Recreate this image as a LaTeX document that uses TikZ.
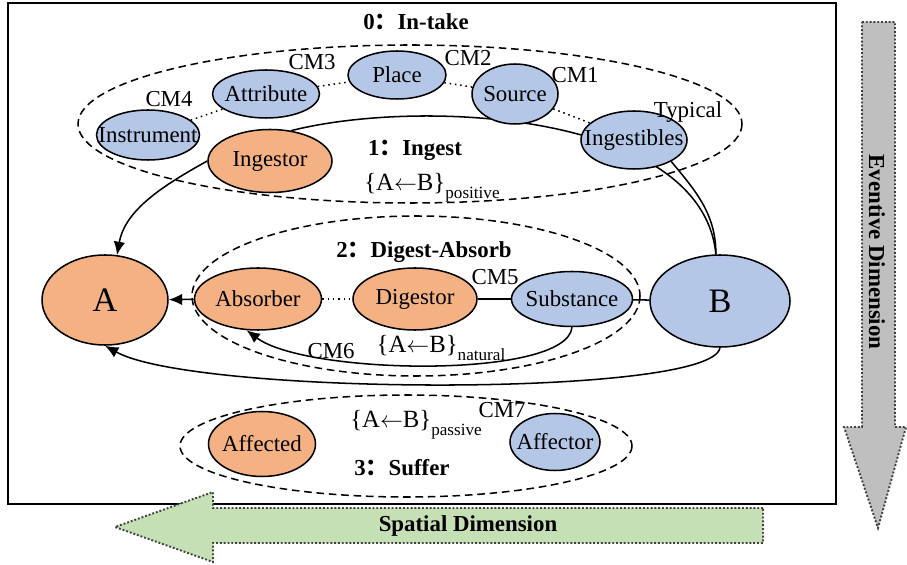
\documentclass[tikz,border=0pt]{standalone}
\usepackage{fontspec}
\setmainfont{Liberation Serif}
\newfontfamily\cjk{Noto Sans CJK SC}
\usetikzlibrary{arrows.meta, shapes.geometric, backgrounds}
\definecolor{agentorange}{RGB}{244,177,131}
\definecolor{patientblue}{RGB}{180,199,231}
\definecolor{spatgreen}{RGB}{197,224,180}
\definecolor{eventgray}{RGB}{191,191,191}
\newcommand{\pxu}{0.525pt}
\newcommand{\nm}[1]{\makebox[0pt]{#1}}
\newcommand{\fwc}{{\cjk ：}}
\newcommand{\relab}[1]{\{A$\leftarrow$B\}\raisebox{-0.7ex}{\fontsize{9}{10}\selectfont #1}}
\tikzset{
    sz/.style 2 args={minimum width=#1*\pxu, minimum height=#2*\pxu},
    role/.style={ellipse, draw, thick, inner sep=0pt, font=\fontsize{12}{14}\selectfont},
    agent/.style={role, fill=agentorange},
    patient/.style={role, fill=patientblue},
    cmlab/.style={font=\fontsize{12}{14}\selectfont, inner sep=0pt},
    stagelab/.style={font=\bfseries\fontsize{12}{14}\selectfont, inner sep=0pt},
    rellab/.style={font=\fontsize{13}{15}\selectfont, inner sep=0pt},
    frame/.style={thick, dash pattern=on 4pt off 2.5pt},
    arr/.style={thick, -{Latex[length=7pt, width=6pt]}},
    dimarrow/.style={line width=1pt, densely dotted, draw=black!75},
}
\begin{document}
\begin{tikzpicture}[x=0.525pt, y=-0.525pt]
    \useasboundingbox (0,0) rectangle (907,565);

    % Cornice
    \draw[line width=1pt] (8,3) rectangle (836,504);

    % Stadio 0: In-take
    \node[stagelab] (t0) at (416,22) {0\fwc In-take};
    \node[patient, sz={103}{50}] (ins) at (148,135) {\nm{Instrument}};
    \node[patient, sz={107}{48}] (att) at (266,94) {\nm{Attribute}};
    \node[patient, sz={98}{48}] (pla) at (397,75) {\nm{Place}};
    \node[patient, sz={86}{60}] (src) at (515,94) {\nm{Source}};
    \node[patient, sz={106}{58}] (ing) at (634,140) {\nm{Ingestibles}};
    \node[cmlab] (cm4) at (169,99) {CM4};
    \node[cmlab] (cm3) at (312,62) {CM3};
    \node[cmlab] (cm2) at (468,58) {CM2};
    \node[cmlab] (cm1) at (575,75) {CM1};
    \node[cmlab] (typ) at (688,112) {Typical};

    % Stadio 1: Ingest
    \node[agent, sz={124}{63}] (ingr) at (270,161) {\nm{Ingestor}};
    \node[stagelab] (t1) at (415,150) {1\fwc Ingest};
    \node[rellab] (r1) at (432,188) {\relab{positive}};

    % Stadio 2: Digest-Absorb
    \node[agent, sz={126}{90}, font=\fontsize{18}{20}\selectfont] (A) at (105,300) {\nm{A}};
    \node[agent, sz={127}{62}] (abs) at (258,299) {\nm{Absorber}};
    \node[agent, sz={124}{62}] (dig) at (415,299) {\nm{Digestor}};
    \node[patient, sz={121}{55}] (sub) at (572,299) {\nm{Substance}};
    \node[patient, sz={140}{92}, font=\fontsize{18}{20}\selectfont] (B) at (720,301) {\nm{B}};
    \node[stagelab] (t2) at (424,252) {2\fwc Digest-Absorb};
    \node[cmlab] (cm5) at (495,277) {CM5};
    \node[cmlab] (cm6) at (331,351) {CM6};
    \node[rellab] (r2) at (441,348) {\relab{natural}};

    % Stadio 3: Suffer
    \node[agent, sz={107}{65}] (afd) at (262,444) {\nm{Affected}};
    \node[patient, sz={90}{57}] (afr) at (555,442) {\nm{Affector}};
    \node[rellab] (r3) at (416,425) {\relab{passive}};
    \node[cmlab] (cm7) at (502,410) {CM7};
    \node[stagelab] (t3) at (402,468) {3\fwc Suffer};

    \begin{scope}[on background layer]
        % Ellissi tratteggiate
        \draw[frame] (410,124) ellipse [x radius=332, y radius=79];
        \draw[frame] (416,296) ellipse [x radius=224, y radius=80];
        \draw[frame] (406,446) ellipse [x radius=226, y radius=51];

        % Legami CM
        \foreach \u/\v in {ins/att, att/pla, pla/src, src/ing, abs/dig} {
            \draw[thick, dotted] (\u) -- (\v);
        }
        \draw[thick] (dig) -- (sub);
        \draw[thick] (sub) -- (B);

        % Frecce
        \draw[arr] (ingr.west) .. controls +(-45,25) and +(8,-45) .. (A.75);
        \draw[thick] (ingr.55) .. controls (420,98) and (702,112) .. (B.95);
        \draw[thick] (ing.-30) .. controls +(25,30) and +(0,-40) .. (B.95);
        \draw[arr] (abs) -- (A);
        \draw[arr] (sub.south) .. controls +(-5,52) and +(60,45) .. (abs.-110);
        \draw[arr] (B.south) .. controls +(-8,50) and +(90,50) .. (A.south);
    \end{scope}

    % Dimensione spaziale
    \draw[dimarrow, fill=spatgreen] (763,508) -- (213,508) -- (213,492) -- (115,527)
        -- (213,562) -- (213,543) -- (763,543) -- cycle;
    \node[stagelab] (spat) at (468,526) {Spatial Dimension};

    % Dimensione eventiva
    \draw[dimarrow, fill=eventgray] (862,22) -- (895,22) -- (895,427) -- (906,427)
        -- (878,528) -- (844,427) -- (862,427) -- cycle;
    \node[stagelab, rotate=-90] (even) at (877,252) {Eventive Dimension};
\end{tikzpicture}
\end{document}
